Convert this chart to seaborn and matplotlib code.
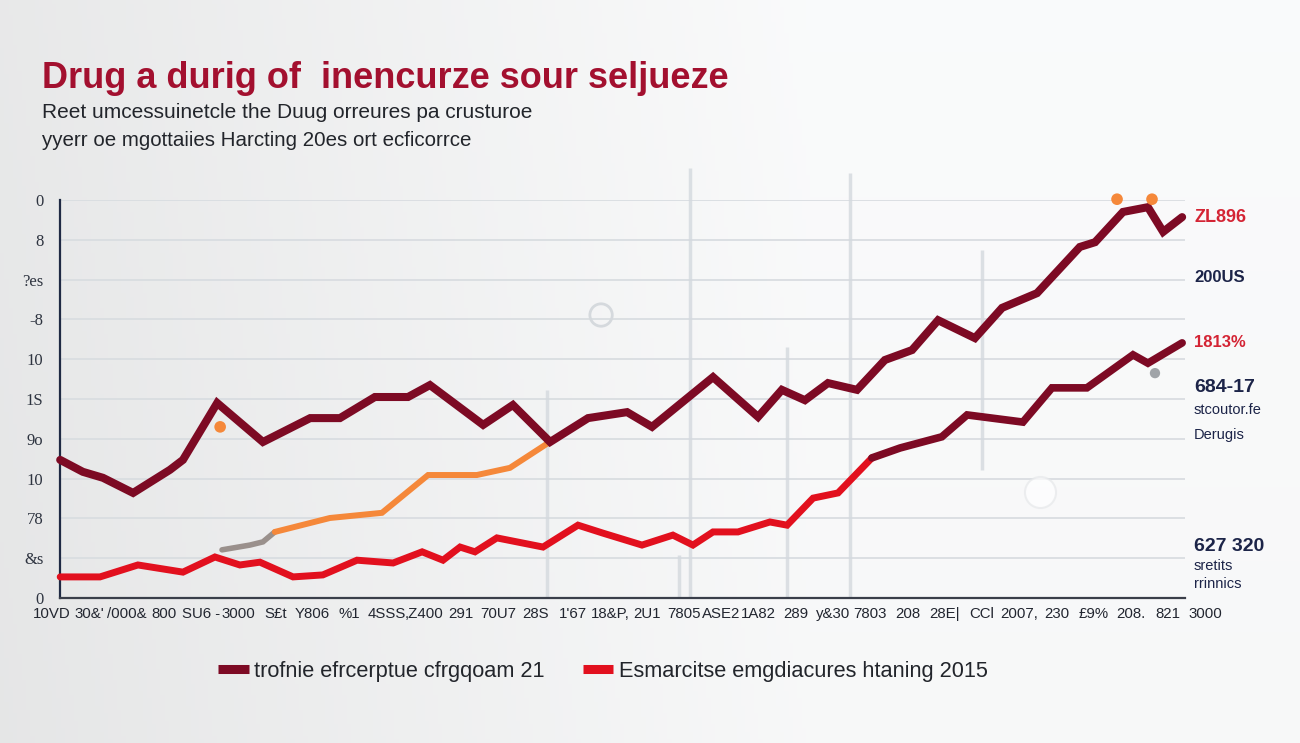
import numpy as np
import pandas as pd
import matplotlib
matplotlib.use("Agg")
import matplotlib.pyplot as plt
from matplotlib.lines import Line2D
from matplotlib.transforms import blended_transform_factory
import seaborn as sns

# ---------------- data ----------------
title = "Drug a durig of  inencurze sour seljueze"
subtitle1 = "Reet umcessuinetcle the Duug orreures pa crusturoe"
subtitle2 = "yyerr oe mgottaiies Harcting 20es ort ecficorrce"

x_labels = ["10VD", "30&'", "/000&", "800", "SU6 -", "3000", "S£t", "Y806", "%1",
            "4SSS", ",Z400", "291", "70U7", "28S", "1'67", "18&P,", "2U1", "7805",
            "ASE2", "1A82", "289", "y&30", "7803", "208", "28E|", "CCl", "2007,",
            "230", "£9%", "208.", "821", "3000"]
y_labels = ["0", "&s", "78", "10", "9o", "1S", "10", "-8", "?es", "8", "0"]

dark_x = [0.22, 0.83, 1.37, 2.18, 3.17, 3.52, 4.44, 5.67, 6.94, 7.74, 8.68, 9.57,
          10.16, 11.59, 12.39, 13.39, 14.41, 15.46, 16.13, 17.77, 18.98, 19.62,
          20.24, 20.86, 21.64, 22.39, 23.12, 23.82, 24.81, 25.54, 26.48, 27.63,
          28.04, 28.79, 29.46, 29.87, 30.38]
dark_y = [3.47, 3.17, 3.02, 2.64, 3.22, 3.47, 4.90, 3.92, 4.52, 4.52, 5.05, 5.05,
          5.35, 4.35, 4.85, 3.92, 4.52, 4.67, 4.30, 5.55, 4.55, 5.23, 4.97, 5.40,
          5.23, 5.98, 6.23, 6.98, 6.53, 7.29, 7.66, 8.82, 8.94, 9.70, 9.82, 9.20,
          9.57]

red_x = [0.22, 1.29, 2.31, 3.52, 4.38, 5.05, 5.59, 6.48, 7.28, 8.20, 9.17, 9.95,
         10.51, 10.97, 11.37, 11.96, 13.20, 14.14, 14.81, 15.86, 16.69, 17.23,
         17.77, 18.44, 19.30, 19.76, 20.46, 21.13, 22.04]
red_y = [0.53, 0.53, 0.83, 0.65, 1.03, 0.83, 0.90, 0.53, 0.58, 0.95, 0.88, 1.16,
         0.95, 1.28, 1.16, 1.51, 1.28, 1.83, 1.63, 1.33, 1.58, 1.33, 1.66, 1.66,
         1.91, 1.83, 2.51, 2.64, 3.52]

dark2_x = [22.04, 22.80, 23.92, 24.60, 26.10, 26.88, 27.82, 29.06, 29.46, 30.38]
dark2_y = [3.52, 3.77, 4.05, 4.60, 4.42, 5.28, 5.28, 6.11, 5.90, 6.41]

orange_x = [5.99, 7.47, 8.87, 10.11, 11.42, 12.31, 13.33]
orange_y = [1.66, 2.01, 2.14, 3.09, 3.09, 3.27, 3.89]

grey_x = [4.57, 5.32, 5.67, 5.99]
grey_y = [1.21, 1.33, 1.41, 1.66]

orange_dot_x = [4.52, 28.63, 29.57]
orange_dot_y = [4.30, 10.02, 10.02]
grey_dot_x = [29.65]
grey_dot_y = [5.65]

# faint vertical streaks: x, y-from, y-to
streak_x = [13.31, 16.85, 17.15, 19.76, 21.45, 25.0]
streak_y0 = [0.0, 0.0, 0.0, 0.0, 0.0, 3.22]
streak_y1 = [5.23, 1.08, 10.8, 6.31, 10.68, 8.74]

right_notes = [
    ("ZL896", 9.57, "#D42434", 13, "bold"),
    ("200US", 8.05, "#1C2448", 12, "bold"),
    ("1813%", 6.41, "#D42434", 12, "bold"),
    ("684-17", 5.3, "#1C2448", 14, "bold"),
    ("stcoutor.fe", 4.72, "#1C2448", 10.5, "normal"),
    ("Derugis", 4.1, "#1C2448", 10.5, "normal"),
    ("627 320", 1.30, "#1C2448", 14, "bold"),
    ("sretits", 0.80, "#1C2448", 10.5, "normal"),
    ("rrinnics", 0.35, "#1C2448", 10.5, "normal"),
]

legend_labels = ["trofnie efrcerptue cfrgqoam 21", "Esmarcitse emgdiacures htaning 2015"]

DARK = "#7D0A24"
RED = "#E2101E"
ORANGE = "#F5883A"
GREY = "#9A908C"

# ---------------- figure ----------------
sns.set_theme(style="white")
plt.rcParams["font.family"] = ["Liberation Sans", "DejaVu Sans"]

fig = plt.figure(figsize=(13, 7.43), dpi=100)

# background gradient
bg = fig.add_axes([0, 0, 1, 1], zorder=-10)
gx = np.linspace(0, 1, 300)
gy = np.linspace(0, 1, 200)
GX, GY = np.meshgrid(gx, gy)
shade = 0.905 + 0.07 * np.clip(GX * 1.6, 0, 1) + 0.01 * GY
img = np.dstack([shade * 0.995, shade * 0.998, shade * 1.0])
bg.imshow(np.clip(img, 0, 1), aspect="auto", extent=[0, 1, 0, 1], origin="lower")
bg.axis("off")

ax = fig.add_axes([60 / 1300, 145 / 743, 1125 / 1300, 398 / 743])
ax.set_facecolor("none")

ax.set_xlim((60 - 52) / 37.2, (1185 - 52) / 37.2)
ax.set_ylim(0, 10)

# grid
for yv in range(0, 11):
    ax.axhline(yv, color="#D9DDE1", lw=1.3, zorder=0)

for sx, s0, s1 in zip(streak_x, streak_y0, streak_y1):
    ax.plot([sx, sx], [s0, s1], color="#D4D9DE", lw=2.5, alpha=0.8, zorder=0.5,
            clip_on=False, solid_capstyle="butt")

# lines
def draw(xs, ys, color, lw, z):
    df = pd.DataFrame({"x": xs, "y": ys})
    sns.lineplot(data=df, x="x", y="y", color=color, lw=lw, sort=False, ax=ax,
                 zorder=z, clip_on=False, solid_joinstyle="miter")

draw(grey_x, grey_y, GREY, 4.0, 3)
draw(orange_x, orange_y, ORANGE, 4.3, 3)
draw(red_x, red_y, RED, 5.0, 4)
draw(dark2_x, dark2_y, DARK, 5.5, 4)
draw(dark_x, dark_y, DARK, 5.8, 5)

ax.scatter(orange_dot_x, orange_dot_y, s=70, color=ORANGE, zorder=6, clip_on=False,
           edgecolor="none")
ax.scatter(grey_dot_x, grey_dot_y, s=55, color="#A0A4A8", zorder=6, clip_on=False,
           edgecolor="none")
ax.scatter([14.76], [7.11], s=260, facecolor="none",
           edgecolor="#D5D9DD", lw=2, zorder=1, clip_on=False)
ax.scatter([26.55], [2.66], s=500, facecolor="#FFFFFF", alpha=0.7,
           edgecolor="#E6E8EA", lw=1.5, zorder=1, clip_on=False)

# axes styling
ax.set_xlabel("")
ax.set_ylabel("")
for side in ["top", "right"]:
    ax.spines[side].set_visible(False)
ax.spines["left"].set_color("#1F2A44")
ax.spines["left"].set_linewidth(1.6)
ax.spines["bottom"].set_color("#3A3F4A")
ax.spines["bottom"].set_linewidth(1.6)

ax.set_yticks(range(0, 11))
ax.set_yticklabels(y_labels, family=["Liberation Serif", "DejaVu Serif"],
                   fontsize=12, color="#2E3440")
ax.tick_params(axis="y", length=0, pad=12)

tick_pos = [i for i in range(len(x_labels)) if ax.get_xlim()[0] <= i <= ax.get_xlim()[1]]
ax.set_xticks(tick_pos)
ax.set_xticklabels([])
ax.tick_params(axis="x", length=4, color="#8A9099", width=1, direction="out")

trans = blended_transform_factory(ax.transData, ax.transAxes)
for i, lab in enumerate(x_labels):
    ax.text(i, -0.04, lab, transform=trans, ha="center", va="center",
            fontsize=10.8, color="#222630", clip_on=False)

# right-side annotations
for txt, yv, col, fs, fw in right_notes:
    ax.text(30.7, yv, txt, ha="left", va="center", color=col, fontsize=fs,
            fontweight=fw, clip_on=False)

# titles
fig.text(42 / 1300, 1 - 78 / 743, title, ha="left", va="center", fontsize=26,
         color="#A3102F", fontweight="bold")
fig.text(42 / 1300, 1 - 112 / 743, subtitle1, ha="left", va="center", fontsize=15,
         color="#22252B")
fig.text(42 / 1300, 1 - 140 / 743, subtitle2, ha="left", va="center", fontsize=14.8,
         color="#22252B")

# legend
handles = [Line2D([0], [0], color=DARK, lw=6.5, solid_capstyle="butt"),
           Line2D([0], [0], color=RED, lw=6.5, solid_capstyle="butt")]
fig.legend(handles, legend_labels, loc="center", bbox_to_anchor=(603 / 1300, 1 - 671 / 743),
           ncol=2, frameon=False, fontsize=15.7, handlelength=1.4, handletextpad=0.25,
           columnspacing=1.75, labelcolor="#22252B")

fig.savefig("out.png", dpi=100, facecolor=fig.get_facecolor())
